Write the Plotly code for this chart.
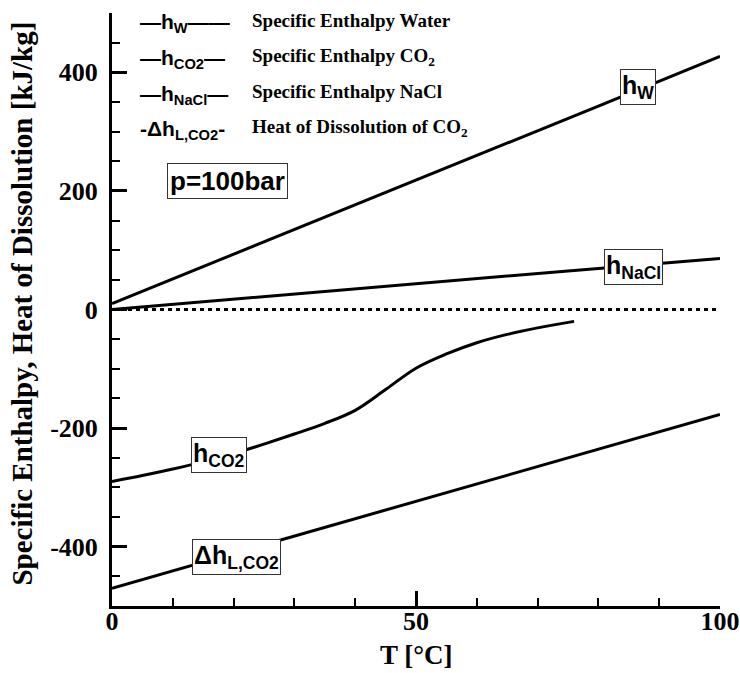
import plotly.graph_objects as go

# Temperature grids [°C] and enthalpies [kJ/kg] at p = 100 bar
T_water = [0, 20, 40, 60, 80, 100]
h_water = [10, 93, 177, 260, 343, 427]

T_nacl = [0, 25, 50, 75, 100]
h_nacl = [0, 22, 43, 65, 86]

T_co2 = [0, 5, 10, 15, 20, 25, 30, 35, 40, 45, 50, 55, 60, 65, 70, 76]
h_co2 = [-290, -280, -269, -257, -243, -227, -210, -192, -170, -135, -99,
         -75, -56, -42, -31, -20]

T_diss = [0, 25, 50, 75, 100]
dh_diss = [-470, -397, -324, -250, -177]

T_zero = [0, 100]
h_zero = [0, 0]

# axis ticks
x_ticks = [0, 50, 100]
x_ticktext = ["0", "50", "100"]
y_ticks = [-400, -200, 0, 200, 400]
y_ticktext = ["-400", "-200", "0", "200", "400"]

SANS = "Liberation Sans, Arial, sans-serif"
SERIF = "Liberation Serif, Times New Roman, serif"

fig = go.Figure()

line = dict(color="black", width=3)
fig.add_trace(go.Scatter(x=T_zero, y=h_zero, mode="lines",
                         line=dict(color="black", width=3, dash="4px,4px")))
fig.add_trace(go.Scatter(x=T_water, y=h_water, mode="lines", line=line))
fig.add_trace(go.Scatter(x=T_nacl, y=h_nacl, mode="lines", line=line))
fig.add_trace(go.Scatter(x=T_co2, y=h_co2, mode="lines",
                         line=dict(color="black", width=3, shape="spline", smoothing=1)))
fig.add_trace(go.Scatter(x=T_diss, y=dh_diss, mode="lines", line=line))

# boxed curve labels
curve_labels = [
    (86.5, 375, "h<sub>W</sub>"),
    (85.7, 72, "h<sub>NaCl</sub>"),
    (17.6, -246, "h<sub>CO2</sub>"),
    (20.4, -417, "Δh<sub>L,CO2</sub>"),
]
for x, y, txt in curve_labels:
    fig.add_annotation(x=x, y=y, xref="x", yref="y", text=txt, showarrow=False,
                       font=dict(family=SANS, size=25, color="black", weight="bold"),
                       bgcolor="white", bordercolor="#333", borderwidth=1, borderpad=1)

# legend block
legend_rows = [
    ("—h<sub>W</sub>——", "Specific Enthalpy Water"),
    ("—h<sub>CO2</sub>—", "Specific Enthalpy CO<sub>2</sub>"),
    ("—h<sub>NaCl</sub>—", "Specific Enthalpy NaCl"),
    ("-Δh<sub>L,CO2</sub>-", "Heat of Dissolution of CO<sub>2</sub>"),
]
sym_y = [0.983, 0.922, 0.862, 0.803]
desc_y = [0.988, 0.925, 0.867, 0.806]
for (sym, desc), ys, yd in zip(legend_rows, sym_y, desc_y):
    fig.add_annotation(x=0.043, y=ys, xref="paper", yref="paper", text=sym,
                       showarrow=False, xanchor="left", yanchor="middle",
                       font=dict(family=SANS, size=21, color="black", weight="bold"))
    fig.add_annotation(x=0.227, y=yd, xref="paper", yref="paper", text=desc,
                       showarrow=False, xanchor="left", yanchor="middle",
                       font=dict(family=SERIF, size=19, color="black", weight="bold"))

fig.add_annotation(x=0.19, y=0.716, xref="paper", yref="paper", text="p=100bar",
                   showarrow=False, xanchor="center", yanchor="middle",
                   font=dict(family=SANS, size=26, color="black", weight="bold"),
                   bgcolor="white", bordercolor="#333", borderwidth=1, borderpad=2)

# axis titles
fig.add_annotation(x=-0.148, y=0.51, xref="paper", yref="paper",
                   xanchor="center", yanchor="middle",
                   text="Specific Enthalpy, Heat of Dissolution [kJ/kg]",
                   textangle=-90, showarrow=False,
                   font=dict(family=SERIF, size=29, color="black", weight="bold"))
fig.add_annotation(x=0.5, y=-0.083, xref="paper", yref="paper", text="T [°C]",
                   showarrow=False, yanchor="middle",
                   font=dict(family=SERIF, size=27, color="black", weight="bold"))

tickfont = dict(family=SERIF, size=26, color="black", weight="bold")
fig.update_xaxes(range=[0, 100], tickmode="array", tickvals=x_ticks, ticktext=x_ticktext,
                 ticks="inside", ticklen=15, tickwidth=3, tickcolor="black",
                 minor=dict(dtick=10, ticks="inside", ticklen=8, tickwidth=1.5,
                            tickcolor="black"),
                 showline=True, linecolor="black", linewidth=3,
                 showgrid=False, zeroline=False, tickfont=tickfont,
                 ticklabelstandoff=-10)
fig.update_yaxes(range=[-500, 500], tickmode="array", tickvals=y_ticks, ticktext=y_ticktext,
                 ticks="inside", ticklen=15, tickwidth=3, tickcolor="black",
                 minor=dict(dtick=50, ticks="inside", ticklen=8, tickwidth=1.5,
                            tickcolor="black"),
                 showline=True, linecolor="black", linewidth=3,
                 showgrid=False, zeroline=False, tickfont=tickfont,
                 ticklabelstandoff=6)

fig.update_layout(width=740, height=673, showlegend=False,
                  margin=dict(l=112, r=20, t=13, b=67, autoexpand=False),
                  plot_bgcolor="white", paper_bgcolor="white")

fig.write_html("out.html")
